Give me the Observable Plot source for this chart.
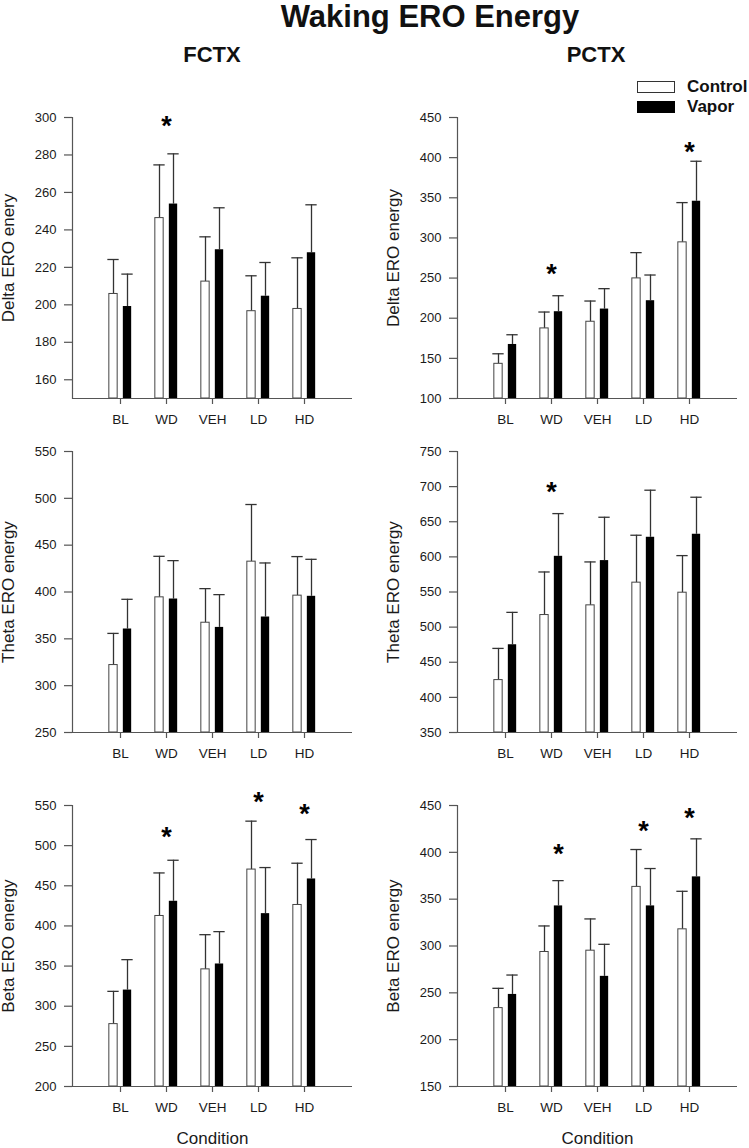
<!DOCTYPE html>
<html>
<head>
<meta charset="utf-8">
<script src="https://cdn.jsdelivr.net/npm/d3@7"></script>
<script src="https://cdn.jsdelivr.net/npm/@observablehq/plot@0.6"></script>
<style>
  html, body { margin: 0; padding: 0; background: #fff; }
  body { font-family: "Liberation Sans", Arial, Helvetica, sans-serif; color: #111; }
  #root { position: relative; width: 749px; height: 1148px; overflow: hidden; }
  .abs { position: absolute; line-height: 1; white-space: nowrap; }
  .title { font-size: 31px; font-weight: bold; }
  .head { font-size: 22px; font-weight: bold; }
  .leg { font-size: 17px; font-weight: bold; }
  .box { position: absolute; box-sizing: border-box; width: 38px; height: 12px; border: 1px solid #333; }
</style>
</head>
<body>
<div id="root"></div>
<script>
// ---------------- DATA ----------------
const conditions = ["BL", "WD", "VEH", "LD", "HD"];
const groups = ["Control", "Vapor"];
const chartTitle = "Waking ERO Energy";
const columnTitles = ["FCTX", "PCTX"];
const xLabel = "Condition";

// FCTX – Delta
const fctxDeltaLabel = "Delta ERO enery";
const fctxDeltaDomain = [150, 300];
const fctxDeltaTicks = [160, 180, 200, 220, 240, 260, 280, 300];
const fctxDeltaControl = [205.8, 246.3, 212.4, 196.6, 197.8];
const fctxDeltaControlSE = [18.4, 28.4, 23.9, 18.9, 27.3];
const fctxDeltaVapor = [199.1, 253.8, 229.4, 204.6, 227.8];
const fctxDeltaVaporSE = [17.3, 26.8, 22.4, 18.0, 25.6];
const fctxDeltaStarConds = ["WD"];
const fctxDeltaStarValues = [299];
const fctxDeltaStarOver = ["Both"];

// PCTX – Delta
const pctxDeltaLabel = "Delta ERO energy";
const pctxDeltaDomain = [100, 450];
const pctxDeltaTicks = [100, 150, 200, 250, 300, 350, 400, 450];
const pctxDeltaControl = [143.2, 187.3, 195.6, 249.6, 294.5];
const pctxDeltaControlSE = [12.5, 20.4, 25.8, 32.1, 49.5];
const pctxDeltaVapor = [167.3, 208.1, 211.4, 221.8, 345.7];
const pctxDeltaVaporSE = [12.1, 19.9, 25.4, 32.0, 49.8];
const pctxDeltaStarConds = ["WD", "HD"];
const pctxDeltaStarValues = [263.4, 415.9];
const pctxDeltaStarOver = ["Both", "Both"];

// FCTX – Theta
const fctxThetaLabel = "Theta ERO energy";
const fctxThetaDomain = [250, 550];
const fctxThetaTicks = [250, 300, 350, 400, 450, 500, 550];
const fctxThetaControl = [322.0, 394.3, 367.2, 432.4, 396.1];
const fctxThetaControlSE = [33.8, 43.8, 36.4, 61.0, 41.7];
const fctxThetaVapor = [360.5, 392.5, 362.2, 373.3, 395.4];
const fctxThetaVaporSE = [31.7, 41.0, 35.0, 57.7, 39.5];
const fctxThetaStarConds = [];
const fctxThetaStarValues = [];
const fctxThetaStarOver = [];

// PCTX – Theta
const pctxThetaLabel = "Theta ERO energy";
const pctxThetaDomain = [350, 750];
const pctxThetaTicks = [350, 400, 450, 500, 550, 600, 650, 700, 750];
const pctxThetaControl = [424.6, 517.2, 531.0, 563.3, 549.0];
const pctxThetaControlSE = [45.1, 61.3, 61.8, 67.5, 52.8];
const pctxThetaVapor = [474.9, 600.8, 594.7, 627.9, 632.2];
const pctxThetaVaporSE = [46.1, 60.8, 61.7, 67.0, 52.7];
const pctxThetaStarConds = ["WD"];
const pctxThetaStarValues = [701.5];
const pctxThetaStarOver = ["Both"];

// FCTX – Beta
const fctxBetaLabel = "Beta ERO energy";
const fctxBetaDomain = [200, 550];
const fctxBetaTicks = [200, 250, 300, 350, 400, 450, 500, 550];
const fctxBetaControl = [277.7, 412.4, 345.9, 470.2, 426.1];
const fctxBetaControlSE = [40.8, 53.6, 43.2, 60.3, 52.0];
const fctxBetaVapor = [320.1, 430.7, 352.6, 415.3, 458.5];
const fctxBetaVaporSE = [37.9, 51.1, 40.3, 57.4, 49.1];
const fctxBetaStarConds = ["WD", "LD", "HD"];
const fctxBetaStarValues = [518.8, 562.5, 547.9];
const fctxBetaStarOver = ["Both", "Both", "Both"];

// PCTX – Beta
const pctxBetaLabel = "Beta ERO energy";
const pctxBetaDomain = [150, 450];
const pctxBetaTicks = [150, 200, 250, 300, 350, 400, 450];
const pctxBetaControl = [233.7, 293.6, 295.0, 363.1, 317.8];
const pctxBetaControlSE = [21.1, 27.8, 33.9, 39.9, 40.6];
const pctxBetaVapor = [248.3, 342.8, 267.6, 342.8, 373.8];
const pctxBetaVaporSE = [20.7, 27.0, 34.2, 39.9, 40.6];
const pctxBetaStarConds = ["WD", "LD", "HD"];
const pctxBetaStarValues = [405.5, 429.7, 443.6];
const pctxBetaStarOver = ["Vapor", "Both", "Both"];

// ---------------- LAYOUT / STYLE ----------------
const SVG_W = 374, PLOT_W = 280, PLOT_H = 281;
const M_TOP = 40, M_BOTTOM = 62;
const AXIS_COLOR = "#555", TEXT_COLOR = "#1a1a1a", ERR_COLOR = "#333";
const BAR_W = 9, CAP_W = 12, OFFSET = 7;
const FONT = "'Liberation Sans', Arial, Helvetica, sans-serif";

function panel(cfg) {
  const step = PLOT_W / (conditions.length + 1);
  const barInset = (step - BAR_W) / 2;
  const capInset = (step - CAP_W) / 2;
  const ctrl = conditions.map((c, i) => ({cond: c, group: groups[0], value: cfg.control[i], se: cfg.controlSE[i]}));
  const vap = conditions.map((c, i) => ({cond: c, group: groups[1], value: cfg.vapor[i], se: cfg.vaporSE[i]}));
  const stars = cfg.starConds.map((c, i) => ({cond: c, value: cfg.starValues[i], over: cfg.starOver[i]}));
  const y0 = cfg.domain[0];
  const marks = [
    Plot.ruleX(ctrl, {x: "cond", y1: "value", y2: d => d.value + d.se, stroke: ERR_COLOR, strokeWidth: 1.3, dx: -OFFSET}),
    Plot.ruleX(vap, {x: "cond", y1: "value", y2: d => d.value + d.se, stroke: ERR_COLOR, strokeWidth: 1.3, dx: OFFSET}),
    Plot.tickY(ctrl, {x: "cond", y: d => d.value + d.se, stroke: ERR_COLOR, strokeWidth: 1.3, insetLeft: capInset, insetRight: capInset, dx: -OFFSET}),
    Plot.tickY(vap, {x: "cond", y: d => d.value + d.se, stroke: ERR_COLOR, strokeWidth: 1.3, insetLeft: capInset, insetRight: capInset, dx: OFFSET}),
    Plot.barY(ctrl, {x: "cond", y1: y0, y2: "value", fill: "white", stroke: "#444", strokeWidth: 1, insetLeft: barInset, insetRight: barInset, dx: -OFFSET}),
    Plot.barY(vap, {x: "cond", y1: y0, y2: "value", fill: "black", insetLeft: barInset, insetRight: barInset, dx: OFFSET}),
    Plot.text(stars.filter(d => d.over === "Both"), {x: "cond", y: "value", text: () => "*", fontSize: 27, fontWeight: "bold", fill: "black", lineAnchor: "middle", dy: 7}),
    Plot.text(stars.filter(d => d.over === "Vapor"), {x: "cond", y: "value", text: () => "*", fontSize: 27, fontWeight: "bold", fill: "black", lineAnchor: "middle", dy: 7, dx: OFFSET}),
    Plot.ruleY([y0], {stroke: AXIS_COLOR, strokeWidth: 1.2}),
    Plot.frame({anchor: "left", stroke: AXIS_COLOR, strokeWidth: 1.2}),
    Plot.axisY({ticks: cfg.ticks, tickSize: 8, tickPadding: 8, fontSize: 13, label: null, stroke: AXIS_COLOR, strokeWidth: 1.2, fill: TEXT_COLOR}),
    Plot.axisY({ticks: [], label: cfg.label, labelAnchor: "center", labelArrow: "none", labelOffset: 71, fontSize: 17, fill: TEXT_COLOR}),
    Plot.axisX({tickSize: 6, tickPadding: 10, fontSize: 13.5, label: null, stroke: AXIS_COLOR, strokeWidth: 1.2, fill: TEXT_COLOR})
  ];
  if (cfg.showX) {
    marks.push(Plot.axisX({ticks: [], label: xLabel, labelAnchor: "center", labelArrow: "none", labelOffset: 57, fontSize: 17, fill: TEXT_COLOR}));
  }
  return Plot.plot({
    width: SVG_W,
    height: M_TOP + PLOT_H + M_BOTTOM,
    marginTop: M_TOP,
    marginBottom: M_BOTTOM,
    marginLeft: cfg.marginLeft,
    marginRight: SVG_W - cfg.marginLeft - PLOT_W,
    style: {fontFamily: FONT, background: "transparent", overflow: "visible", color: TEXT_COLOR},
    x: {type: "band", domain: conditions, paddingInner: 0, paddingOuter: 0.5},
    y: {domain: cfg.domain},
    marks
  });
}

const root = document.getElementById("root");
function place(el, left, top) {
  el.style.position = "absolute";
  el.style.left = left + "px";
  el.style.top = top + "px";
  root.appendChild(el);
}

const rowTops = [77, 411, 765];
const colLefts = [0, 375];
const colMargins = [72, 82];

const panels = [
  {row: 0, col: 0, label: fctxDeltaLabel, domain: fctxDeltaDomain, ticks: fctxDeltaTicks, control: fctxDeltaControl, controlSE: fctxDeltaControlSE, vapor: fctxDeltaVapor, vaporSE: fctxDeltaVaporSE, starConds: fctxDeltaStarConds, starValues: fctxDeltaStarValues, starOver: fctxDeltaStarOver},
  {row: 0, col: 1, label: pctxDeltaLabel, domain: pctxDeltaDomain, ticks: pctxDeltaTicks, control: pctxDeltaControl, controlSE: pctxDeltaControlSE, vapor: pctxDeltaVapor, vaporSE: pctxDeltaVaporSE, starConds: pctxDeltaStarConds, starValues: pctxDeltaStarValues, starOver: pctxDeltaStarOver},
  {row: 1, col: 0, label: fctxThetaLabel, domain: fctxThetaDomain, ticks: fctxThetaTicks, control: fctxThetaControl, controlSE: fctxThetaControlSE, vapor: fctxThetaVapor, vaporSE: fctxThetaVaporSE, starConds: fctxThetaStarConds, starValues: fctxThetaStarValues, starOver: fctxThetaStarOver},
  {row: 1, col: 1, label: pctxThetaLabel, domain: pctxThetaDomain, ticks: pctxThetaTicks, control: pctxThetaControl, controlSE: pctxThetaControlSE, vapor: pctxThetaVapor, vaporSE: pctxThetaVaporSE, starConds: pctxThetaStarConds, starValues: pctxThetaStarValues, starOver: pctxThetaStarOver},
  {row: 2, col: 0, label: fctxBetaLabel, domain: fctxBetaDomain, ticks: fctxBetaTicks, control: fctxBetaControl, controlSE: fctxBetaControlSE, vapor: fctxBetaVapor, vaporSE: fctxBetaVaporSE, starConds: fctxBetaStarConds, starValues: fctxBetaStarValues, starOver: fctxBetaStarOver},
  {row: 2, col: 1, label: pctxBetaLabel, domain: pctxBetaDomain, ticks: pctxBetaTicks, control: pctxBetaControl, controlSE: pctxBetaControlSE, vapor: pctxBetaVapor, vaporSE: pctxBetaVaporSE, starConds: pctxBetaStarConds, starValues: pctxBetaStarValues, starOver: pctxBetaStarOver}
];

for (const p of panels) {
  const svg = panel({...p, marginLeft: colMargins[p.col], showX: p.row === 2});
  place(svg, colLefts[p.col], rowTops[p.row]);
}

// Titles
function textDiv(cls, txt) {
  const d = document.createElement("div");
  d.className = "abs " + cls;
  d.textContent = txt;
  return d;
}
const t = textDiv("title", chartTitle);
t.style.transform = "translateX(-50%)";
place(t, 430, 1);
const h1 = textDiv("head", columnTitles[0]);
h1.style.transform = "translateX(-50%)";
place(h1, 212, 44);
const h2 = textDiv("head", columnTitles[1]);
h2.style.transform = "translateX(-50%)";
place(h2, 596, 44);

// Legend
const legendFills = ["white", "black"];
groups.forEach((g, i) => {
  const b = document.createElement("div");
  b.className = "box";
  b.style.background = legendFills[i];
  b.style.borderColor = i === 0 ? "#333" : "black";
  place(b, 637, 81 + i * 20);
  const l = textDiv("leg", g);
  place(l, 687, 78 + i * 20);
});
</script>
</body>
</html>
